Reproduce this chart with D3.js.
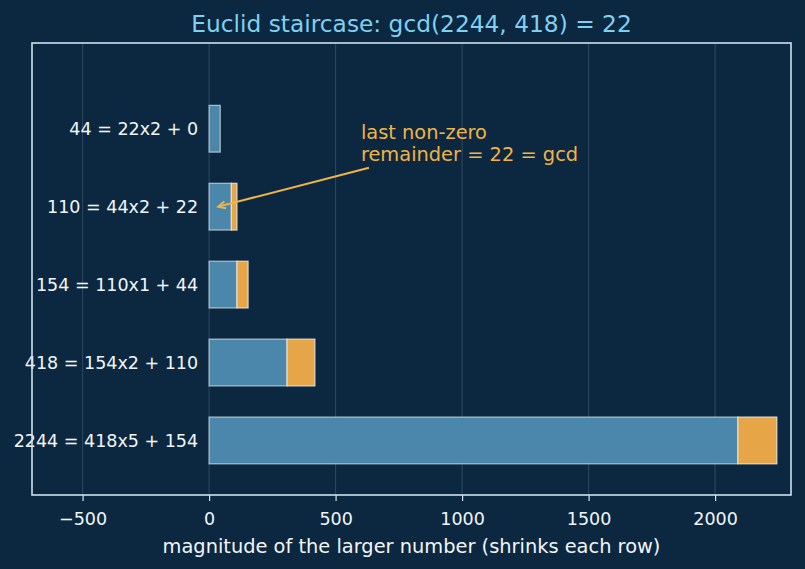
<!DOCTYPE html>
<html>
<head>
<meta charset="utf-8">
<script src="https://cdn.jsdelivr.net/npm/d3@7"></script>
<style>
  body { margin: 0; background: #0c2840; }
  svg { display: block; font-family: "DejaVu Sans", sans-serif; }
</style>
</head>
<body>
<svg width="805" height="569"></svg>
<script>
// Euclid steps: dividend = divisor x quotient + remainder
const dividends = [2244, 418, 154, 110, 44];
const divisors = [418, 154, 110, 44, 22];
const quotients = [5, 2, 1, 2, 2];
const remainders = [154, 110, 44, 22, 0];
const xTicks = [-500, 0, 500, 1000, 1500, 2000];

const svg = d3.select('svg');
const width = +svg.attr('width');
const height = +svg.attr('height');
const margin = {top: 43, right: 14, bottom: 74, left: 32};
const innerWidth = width - margin.left - margin.right;
const innerHeight = height - margin.top - margin.bottom;

const rows = dividends.map((a, i) => ({
    a,
    b: divisors[i],
    q: quotients[i],
    r: remainders[i],
    i,
    label: `${a} = ${divisors[i]}x${quotients[i]} + ${remainders[i]}`
}));

const xScale = d3.scaleLinear()
    .domain([-700, 2300])
    .range([0, innerWidth]);

const yScale = d3.scaleLinear()
    .domain([-0.7, 5.1])
    .range([innerHeight, 0]);

const barH = yScale(0) - yScale(0.6);

svg.append('rect')
    .attr('width', width)
    .attr('height', height)
    .attr('fill', '#0c2840');

const g = svg.append('g')
    .attr('transform', `translate(${margin.left}, ${margin.top})`);

// vertical grid
g.selectAll('.grid').data(xTicks)
    .enter().append('line')
        .attr('class', 'grid')
        .attr('x1', d => xScale(d))
        .attr('x2', d => xScale(d))
        .attr('y1', 0)
        .attr('y2', innerHeight)
        .attr('stroke', '#b8cde0')
        .attr('stroke-opacity', 0.25)
        .attr('stroke-width', 0.8);

// quotient part
g.selectAll('.qbar').data(rows)
    .enter().append('rect')
        .attr('class', 'qbar')
        .attr('x', xScale(0))
        .attr('y', d => yScale(d.i) - barH / 2)
        .attr('width', d => xScale(d.b * d.q) - xScale(0))
        .attr('height', barH)
        .attr('fill', '#4a87aa')
        .attr('stroke', '#dfe9f0')
        .attr('stroke-opacity', 0.7)
        .attr('stroke-width', 1.2);

// remainder part
g.selectAll('.rbar').data(rows.filter(d => d.r > 0))
    .enter().append('rect')
        .attr('class', 'rbar')
        .attr('x', d => xScale(d.b * d.q))
        .attr('y', d => yScale(d.i) - barH / 2)
        .attr('width', d => xScale(d.a) - xScale(d.b * d.q))
        .attr('height', barH)
        .attr('fill', '#e6a648')
        .attr('stroke', '#eee8de')
        .attr('stroke-opacity', 0.85)
        .attr('stroke-width', 1.2);

// row labels
g.selectAll('.rowlabel').data(rows)
    .enter().append('text')
        .attr('class', 'rowlabel')
        .attr('x', xScale(0) - 11)
        .attr('y', d => yScale(d.i))
        .attr('dy', '0.36em')
        .attr('text-anchor', 'end')
        .attr('fill', '#f2f6fa')
        .attr('font-size', 17.5)
        .text(d => d.label);

// x axis
const xAxis = d3.axisBottom(xScale)
    .tickValues(xTicks)
    .tickSize(6)
    .tickPadding(12)
    .tickFormat(d3.format('d'));

const xAxisG = g.append('g')
    .attr('transform', `translate(0, ${innerHeight})`)
    .call(xAxis);
xAxisG.select('.domain').remove();
xAxisG.selectAll('.tick line')
    .attr('stroke', '#cfe0ee')
    .attr('stroke-width', 1.2);
xAxisG.selectAll('.tick text')
    .attr('fill', '#f2f6fa')
    .attr('font-size', 17.5)
    .attr('font-family', '"DejaVu Sans", sans-serif')
    .text(d => d < 0 ? '\u2212' + Math.abs(d) : d);

// frame
g.append('rect')
    .attr('width', innerWidth)
    .attr('height', innerHeight)
    .attr('fill', 'none')
    .attr('stroke', '#cfe0ee')
    .attr('stroke-width', 1.6);

g.append('text')
    .attr('x', innerWidth / 2)
    .attr('y', innerHeight + 58)
    .attr('text-anchor', 'middle')
    .attr('fill', '#f2f6fa')
    .attr('font-size', 19.4)
    .text('magnitude of the larger number (shrinks each row)');

svg.append('text')
    .attr('x', margin.left + innerWidth / 2)
    .attr('y', 32)
    .attr('text-anchor', 'middle')
    .attr('fill', '#7fd0f2')
    .attr('font-size', 23.3)
    .text('Euclid staircase: gcd(2244, 418) = 22');

// annotation pointing at the last non-zero remainder
const note = {tx: 600, ty: 3.87, fromX: 632, fromY: 3.5, toX: 44, toY: 3};
const noteColor = '#f2b347';

const x1 = xScale(note.fromX), y1 = yScale(note.fromY);
const x2 = xScale(note.toX) - 2, y2 = yScale(note.toY);
g.append('line')
    .attr('x1', x1).attr('y1', y1)
    .attr('x2', x2).attr('y2', y2)
    .attr('stroke', noteColor)
    .attr('stroke-width', 2);
const ang = Math.atan2(y1 - y2, x1 - x2);
const head = 8, spread = 0.45;
g.append('path')
    .attr('d', `M${x2 + head * Math.cos(ang + spread)},${y2 + head * Math.sin(ang + spread)}
                L${x2},${y2}
                L${x2 + head * Math.cos(ang - spread)},${y2 + head * Math.sin(ang - spread)}`)
    .attr('fill', 'none')
    .attr('stroke', noteColor)
    .attr('stroke-width', 2);

const noteText = g.append('text')
    .attr('x', xScale(note.tx))
    .attr('y', yScale(note.ty))
    .attr('fill', noteColor)
    .attr('font-size', 19.4);
noteText.append('tspan').attr('x', xScale(note.tx)).text('last non-zero');
noteText.append('tspan').attr('x', xScale(note.tx)).attr('dy', 22).text('remainder = 22 = gcd');
</script>
</body>
</html>
